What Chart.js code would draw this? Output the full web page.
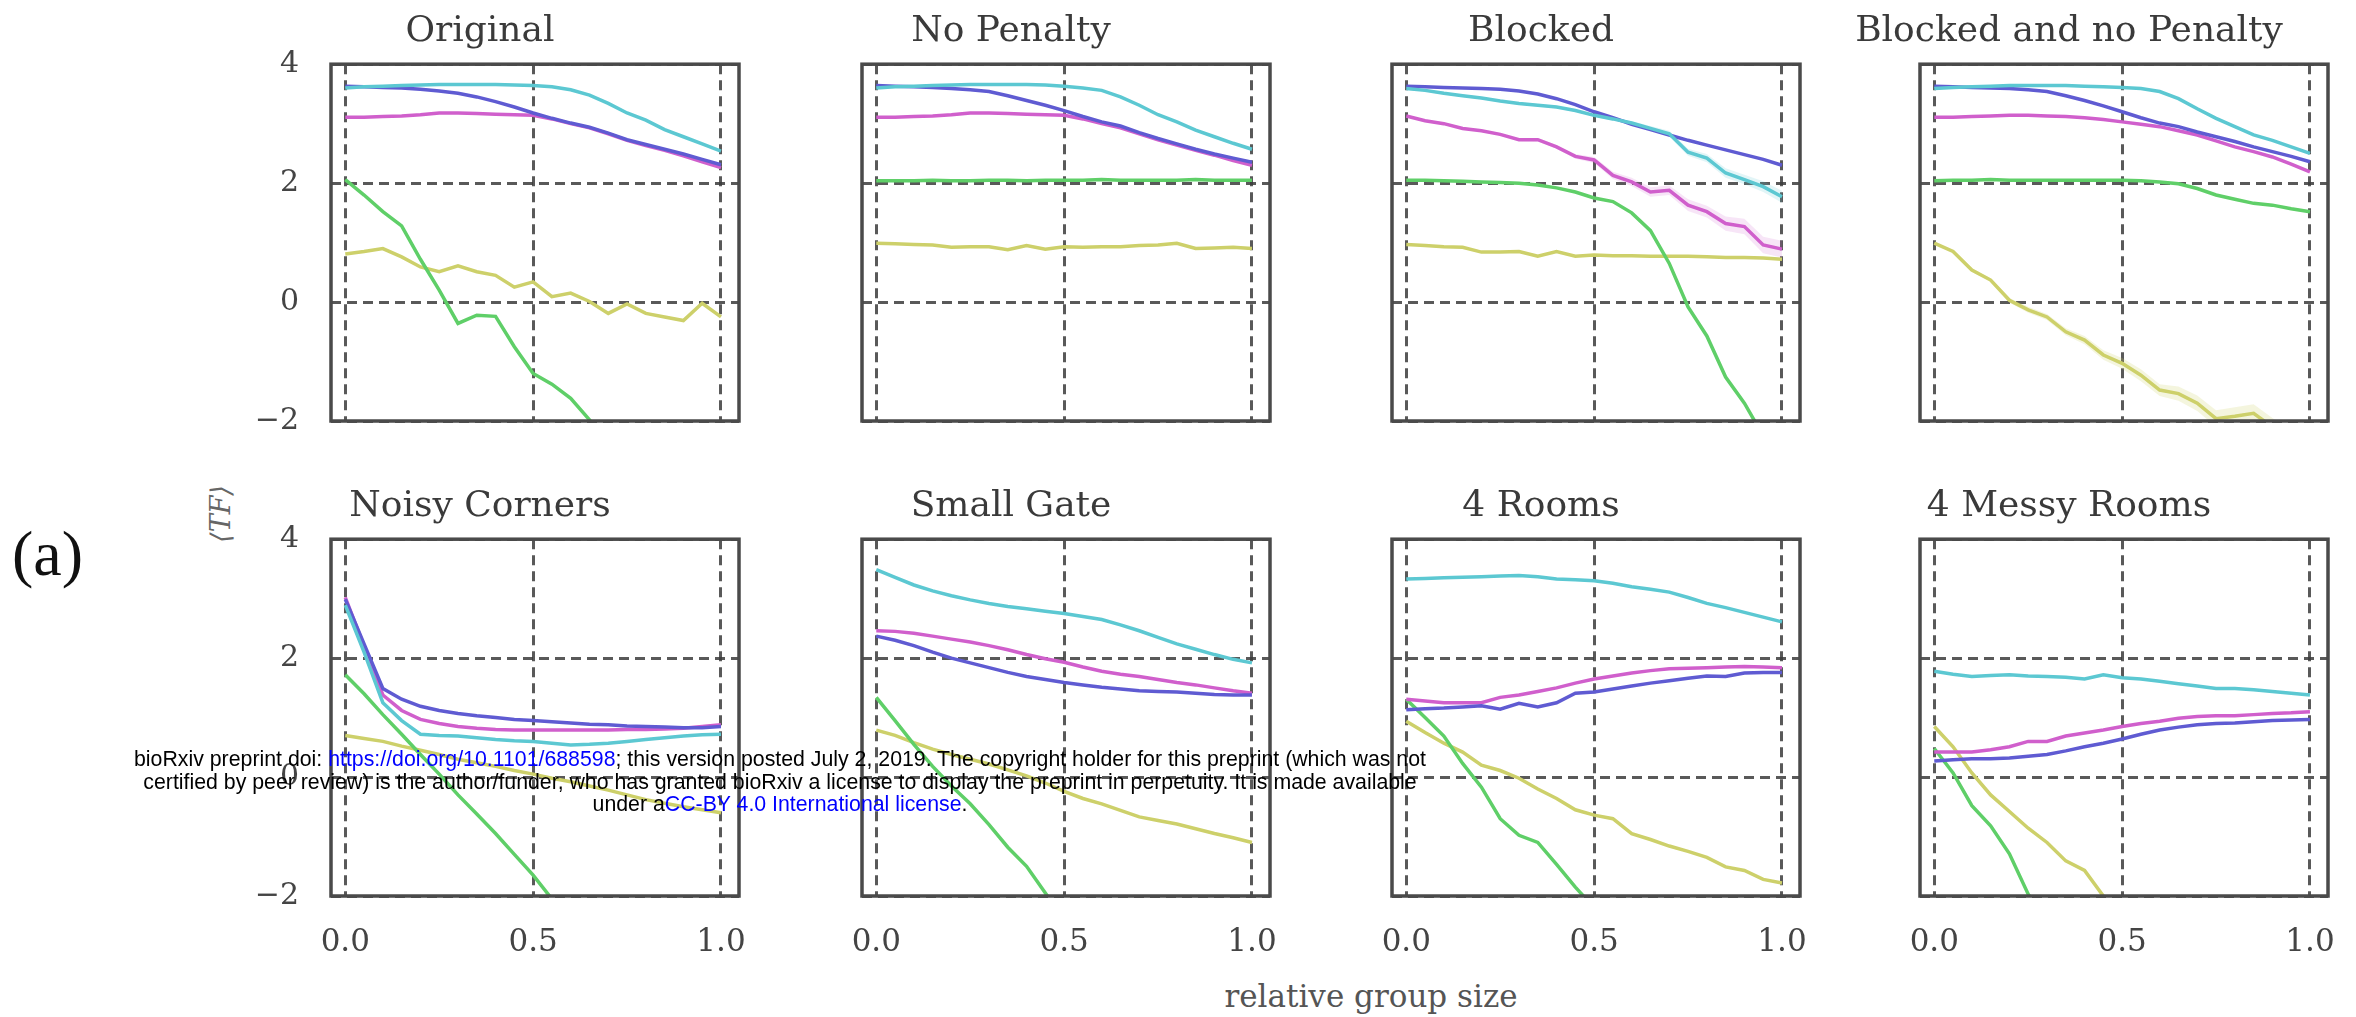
<!DOCTYPE html>
<html>
<head>
<meta charset="utf-8">
<script src="https://cdn.jsdelivr.net/npm/chart.js@4.4.1/dist/chart.umd.min.js"></script>
<style>
  html, body { margin: 0; padding: 0; background: #fff; }
  body { width: 2356px; height: 1017px; position: relative; overflow: hidden; }
  canvas { position: absolute; }
  .lbl { position: absolute; white-space: nowrap; }
  #panelTag { left: 12px; top: 518px; font: 64px 'Liberation Serif', serif; color: #111; line-height: 72px; }
  #yLab { left: 220px; top: 514px; transform: translate(-50%, -50%) rotate(-90deg);
          font: italic 27px 'DejaVu Serif', serif; color: #666; }
  #xLab { left: 1371px; top: 996px; transform: translate(-50%, -50%);
          font: 31px 'DejaVu Serif', serif; color: #555; }
  #stamp { left: 780px; top: 748px; transform: translateX(-50%); text-align: center;
           font: 21.3px 'Liberation Sans', Arial, sans-serif; line-height: 22.5px; color: #000; }
  #stamp a { color: #0000ff; text-decoration: none; }
</style>
</head>
<body>
<div class="lbl" id="panelTag">(a)</div>
<div class="lbl" id="yLab">⟨TF⟩</div>
<div class="lbl" id="xLab">relative group size</div>

<script>
// x positions (relative group size)
const xs = [0, 0.05, 0.1, 0.15, 0.2, 0.25, 0.3, 0.35, 0.4, 0.45, 0.5,
            0.55, 0.6, 0.65, 0.7, 0.75, 0.8, 0.85, 0.9, 0.95, 1.0];

const xTicks = [0, 0.5, 1];
const xTickLabels = ['0.0', '0.5', '1.0'];
const yTicks = [-2, 0, 2, 4];
const yTickLabels = ['\u22122', '0', '2', '4'];

const titles = ['Original', 'No Penalty', 'Blocked', 'Blocked and no Penalty',
                'Noisy Corners', 'Small Gate', '4 Rooms', '4 Messy Rooms'];

// Original
const origCyan    = [3.60,3.62,3.63,3.64,3.65,3.66,3.66,3.66,3.66,3.65,3.64,3.62,3.57,3.48,3.34,3.18,3.06,2.90,2.78,2.66,2.54];
const origBlue    = [3.63,3.62,3.61,3.60,3.58,3.55,3.51,3.45,3.37,3.28,3.18,3.09,3.01,2.94,2.84,2.73,2.65,2.57,2.49,2.40,2.31];
const origMagenta = [3.11,3.11,3.12,3.13,3.15,3.18,3.18,3.17,3.16,3.15,3.14,3.08,3.00,2.93,2.83,2.72,2.63,2.55,2.46,2.36,2.26];
const origGreen   = [2.06,1.80,1.52,1.28,0.72,0.20,-0.36,-0.22,-0.24,-0.75,-1.20,-1.38,-1.62,-1.98,-2.40,null,null,null,null,null,null];
const origYellow  = [0.81,0.85,0.90,0.76,0.59,0.51,0.61,0.51,0.45,0.25,0.34,0.09,0.15,0.01,-0.19,-0.03,-0.19,-0.25,-0.31,-0.02,-0.25];

// No Penalty
const npCyan    = [3.60,3.62,3.63,3.64,3.65,3.66,3.66,3.66,3.66,3.65,3.63,3.60,3.56,3.45,3.31,3.15,3.03,2.89,2.78,2.67,2.57];
const npBlue    = [3.64,3.63,3.62,3.61,3.59,3.57,3.54,3.47,3.39,3.31,3.22,3.12,3.03,2.96,2.85,2.75,2.66,2.57,2.49,2.42,2.35];
const npMagenta = [3.11,3.11,3.12,3.13,3.15,3.18,3.18,3.17,3.16,3.15,3.14,3.08,3.00,2.93,2.83,2.73,2.64,2.55,2.47,2.38,2.30];
const npGreen   = [2.04,2.04,2.04,2.05,2.04,2.04,2.05,2.05,2.04,2.05,2.05,2.05,2.06,2.05,2.05,2.05,2.05,2.06,2.05,2.05,2.05];
const npYellow  = [0.99,0.98,0.97,0.96,0.92,0.93,0.93,0.88,0.95,0.89,0.93,0.92,0.93,0.93,0.95,0.96,0.99,0.90,0.91,0.92,0.90];

// Blocked
const blCyan    = [3.59,3.56,3.51,3.47,3.43,3.38,3.34,3.31,3.28,3.22,3.14,3.08,3.01,2.92,2.83,2.52,2.42,2.17,2.06,1.94,1.77];
const blBlue    = [3.63,3.62,3.61,3.60,3.59,3.58,3.55,3.50,3.42,3.32,3.20,3.10,2.99,2.90,2.81,2.72,2.64,2.56,2.48,2.40,2.30];
const blMagenta = [3.13,3.05,3.00,2.92,2.88,2.82,2.73,2.73,2.61,2.45,2.39,2.13,2.02,1.85,1.88,1.63,1.52,1.32,1.27,0.96,0.89];
const blGreen   = [2.05,2.05,2.04,2.03,2.02,2.01,2.00,1.97,1.92,1.85,1.75,1.69,1.50,1.20,0.65,-0.08,-0.57,-1.26,-1.70,-2.25,null];
const blYellow  = [0.97,0.95,0.93,0.92,0.84,0.84,0.85,0.77,0.85,0.77,0.79,0.78,0.78,0.77,0.77,0.77,0.76,0.75,0.75,0.74,0.72];
// half widths of the shaded spread
const blCyanSpread    = [0.02,0.02,0.02,0.02,0.02,0.02,0.02,0.02,0.02,0.02,0.02,0.03,0.03,0.04,0.05,0.06,0.07,0.08,0.08,0.09,0.10];
const blMagentaSpread = [0.02,0.02,0.02,0.02,0.02,0.02,0.02,0.03,0.03,0.04,0.05,0.06,0.07,0.08,0.08,0.10,0.10,0.12,0.13,0.14,0.14];

// Blocked and no Penalty
const bnCyan    = [3.59,3.61,3.62,3.63,3.64,3.64,3.64,3.64,3.63,3.62,3.61,3.59,3.54,3.42,3.25,3.09,2.95,2.81,2.72,2.61,2.50];
const bnBlue    = [3.63,3.62,3.61,3.60,3.59,3.57,3.54,3.47,3.39,3.30,3.20,3.10,3.01,2.95,2.86,2.78,2.70,2.61,2.53,2.45,2.36];
const bnMagenta = [3.11,3.11,3.12,3.13,3.14,3.14,3.13,3.12,3.10,3.07,3.03,2.99,2.95,2.88,2.81,2.71,2.61,2.53,2.44,2.32,2.19];
const bnGreen   = [2.04,2.05,2.05,2.06,2.05,2.05,2.05,2.05,2.05,2.05,2.05,2.04,2.02,1.99,1.91,1.80,1.73,1.66,1.63,1.57,1.52];
const bnYellow  = [0.99,0.85,0.54,0.37,0.03,-0.13,-0.25,-0.50,-0.64,-0.89,-1.03,-1.23,-1.48,-1.54,-1.70,-1.96,-1.92,-1.87,-2.10,-2.30,null];
const bnYellowSpread = [0.02,0.02,0.03,0.03,0.04,0.05,0.05,0.06,0.07,0.08,0.09,0.10,0.10,0.12,0.13,0.14,0.15,0.15,0.15,0.15,null];

// Noisy Corners
const ncCyan    = [2.89,2.10,1.25,0.95,0.72,0.70,0.69,0.66,0.63,0.61,0.60,0.57,0.54,0.55,0.57,0.60,0.63,0.66,0.69,0.71,0.72];
const ncBlue    = [2.99,2.24,1.49,1.31,1.19,1.12,1.07,1.03,1.00,0.97,0.95,0.93,0.91,0.89,0.88,0.86,0.85,0.84,0.83,0.83,0.85];
const ncMagenta = [3.02,2.20,1.38,1.12,0.97,0.90,0.85,0.82,0.80,0.79,0.79,0.79,0.79,0.79,0.79,0.80,0.80,0.81,0.82,0.85,0.88];
const ncGreen   = [1.72,1.40,1.05,0.72,0.38,0.05,-0.30,-0.62,-0.95,-1.30,-1.65,-2.05,-2.40,null,null,null,null,null,null,null,null];
const ncYellow  = [0.70,0.65,0.60,0.52,0.45,0.38,0.30,0.24,0.18,0.11,0.05,-0.02,-0.08,-0.15,-0.22,-0.30,-0.38,-0.44,-0.50,-0.55,-0.60];

// Small Gate
const sgCyan    = [3.49,3.36,3.23,3.13,3.05,2.98,2.92,2.87,2.83,2.79,2.75,2.70,2.65,2.56,2.46,2.35,2.24,2.15,2.06,1.98,1.92];
const sgBlue    = [2.37,2.30,2.21,2.10,2.00,1.92,1.84,1.76,1.69,1.64,1.59,1.55,1.51,1.48,1.45,1.44,1.43,1.41,1.39,1.38,1.38];
const sgMagenta = [2.46,2.45,2.42,2.37,2.32,2.27,2.21,2.14,2.06,1.99,1.93,1.85,1.78,1.73,1.69,1.64,1.59,1.55,1.50,1.45,1.41];
const sgGreen   = [1.34,0.95,0.55,0.18,-0.15,-0.45,-0.80,-1.18,-1.50,-1.95,-2.40,null,null,null,null,null,null,null,null,null,null];
const sgYellow  = [0.79,0.70,0.58,0.47,0.38,0.30,0.22,0.12,0.02,-0.10,-0.24,-0.36,-0.45,-0.56,-0.67,-0.73,-0.79,-0.87,-0.95,-1.02,-1.10];

// 4 Rooms
const frCyan    = [3.33,3.34,3.35,3.36,3.37,3.38,3.39,3.37,3.33,3.32,3.30,3.26,3.20,3.16,3.11,3.02,2.92,2.85,2.77,2.69,2.61];
const frBlue    = [1.13,1.15,1.16,1.18,1.20,1.14,1.24,1.18,1.25,1.41,1.43,1.48,1.53,1.58,1.62,1.66,1.70,1.69,1.75,1.76,1.76];
const frMagenta = [1.31,1.28,1.25,1.25,1.25,1.34,1.38,1.44,1.50,1.58,1.65,1.70,1.75,1.79,1.82,1.83,1.84,1.85,1.86,1.85,1.84];
const frGreen   = [1.31,1.00,0.69,0.23,-0.17,-0.70,-0.98,-1.10,-1.47,-1.85,-2.20,null,null,null,null,null,null,null,null,null,null];
const frYellow  = [0.94,0.75,0.57,0.42,0.20,0.11,-0.02,-0.20,-0.36,-0.55,-0.64,-0.70,-0.95,-1.05,-1.16,-1.25,-1.35,-1.51,-1.57,-1.72,-1.78];

// 4 Messy Rooms
const mrCyan    = [1.78,1.73,1.69,1.71,1.72,1.70,1.69,1.68,1.65,1.72,1.67,1.65,1.61,1.57,1.53,1.49,1.49,1.47,1.44,1.41,1.38];
const mrBlue    = [0.27,0.29,0.31,0.31,0.32,0.35,0.38,0.44,0.51,0.57,0.64,0.72,0.79,0.84,0.88,0.90,0.91,0.93,0.95,0.96,0.97];
const mrMagenta = [0.42,0.42,0.42,0.46,0.51,0.60,0.60,0.69,0.74,0.79,0.85,0.90,0.94,0.99,1.02,1.03,1.03,1.05,1.07,1.08,1.10];
const mrGreen   = [0.48,0.07,-0.48,-0.82,-1.29,-1.97,-2.40,null,null,null,null,null,null,null,null,null,null,null,null,null,null];
const mrYellow  = [0.85,0.51,0.07,-0.30,-0.58,-0.86,-1.10,-1.41,-1.57,-2.00,-2.30,null,null,null,null,null,null,null,null,null,null];

// series order inside each panel: cyan, blue, magenta, green, yellow
const panelSeries = [
  [origCyan, origBlue, origMagenta, origGreen, origYellow],
  [npCyan, npBlue, npMagenta, npGreen, npYellow],
  [blCyan, blBlue, blMagenta, blGreen, blYellow],
  [bnCyan, bnBlue, bnMagenta, bnGreen, bnYellow],
  [ncCyan, ncBlue, ncMagenta, ncGreen, ncYellow],
  [sgCyan, sgBlue, sgMagenta, sgGreen, sgYellow],
  [frCyan, frBlue, frMagenta, frGreen, frYellow],
  [mrCyan, mrBlue, mrMagenta, mrGreen, mrYellow]
];
// shaded spreads: [panel, series, half widths]
const spreads = [
  [2, 0, blCyanSpread],
  [2, 2, blMagentaSpread],
  [3, 4, bnYellowSpread]
];

// look
const lineColors = ['#5cc8d2', '#5f5bd2', '#d05fcc', '#5fcf68', '#cdd06a'];
const bandColors = ['rgba(92,200,210,0.18)', 'rgba(95,91,210,0.18)', 'rgba(208,95,204,0.16)',
                    'rgba(95,207,104,0.18)', 'rgba(205,208,106,0.22)'];
const FONT = "'DejaVu Serif', serif";
const GRID = 'rgba(60,60,60,0.85)';
const TXT = '#444';

// layout (px)
const frameLeft = [331, 862, 1392, 1920];
const frameW = 408;
const canvasTop = [1, 476];
const AXIS_W = 110;
const TITLE_H = 63.2;   // 36 * 1.2 + 9 + 11
const PLOT_H = 357;
const XAXIS_H = [10, 100];

// frame around the plot area
const framePlugin = {
  id: 'frame',
  afterDatasetsDraw(chart) {
    const { ctx, chartArea: a } = chart;
    ctx.save();
    ctx.strokeStyle = '#4a4a4a';
    ctx.lineWidth = 3.5;
    ctx.strokeRect(a.left, a.top, a.right - a.left, a.bottom - a.top);
    ctx.restore();
  }
};

function noPad(s) { s.paddingTop = 0; s.paddingBottom = 0; s.paddingLeft = 0; s.paddingRight = 0; }

function makePanel(i) {
  const col = i % 4, row = Math.floor(i / 4);
  const cv = document.createElement('canvas');
  const w = frameW + 2 * AXIS_W;
  const h = Math.round(TITLE_H + PLOT_H + XAXIS_H[row]);
  cv.width = w; cv.height = h;
  cv.style.left = (frameLeft[col] - AXIS_W) + 'px';
  cv.style.top = canvasTop[row] + 'px';
  document.body.appendChild(cv);

  const datasets = [];
  panelSeries[i].forEach((vals, k) => {
    datasets.push({
      data: vals.map((v, j) => ({ x: xs[j], y: v })),
      borderColor: lineColors[k],
      borderWidth: 3.5,
      pointRadius: 0,
      tension: 0,
      fill: false
    });
  });
  spreads.filter(s => s[0] === i).forEach(([, k, half]) => {
    const vals = panelSeries[i][k];
    const lo = vals.map((v, j) => ({ x: xs[j], y: v === null || half[j] === null ? null : v - half[j] }));
    const hi = vals.map((v, j) => ({ x: xs[j], y: v === null || half[j] === null ? null : v + half[j] }));
    datasets.push({ data: lo, borderWidth: 0, pointRadius: 0, fill: false });
    datasets.push({ data: hi, borderWidth: 0, pointRadius: 0, fill: '-1', backgroundColor: bandColors[k] });
  });

  new Chart(cv.getContext('2d'), {
    type: 'line',
    data: { datasets },
    options: {
      responsive: false, animation: false, events: [],
      layout: { padding: { left: 0, right: AXIS_W, top: 0, bottom: 0 } },
      scales: {
        x: {
          type: 'linear', min: -0.038, max: 1.048,
          afterBuildTicks: s => { s.ticks = xTicks.map(v => ({ value: v })); },
          afterFit: s => { s.height = XAXIS_H[row]; noPad(s); },
          grid: { color: GRID, lineWidth: 3, drawTicks: false },
          border: { display: false, dash: [10, 6] },
          ticks: {
            display: row === 1, padding: 28, maxRotation: 0, autoSkip: false,
            color: TXT, font: { family: FONT, size: 31 },
            callback: (v, idx) => xTickLabels[idx]
          }
        },
        y: {
          min: -2, max: 4,
          afterBuildTicks: s => { s.ticks = yTicks.map(v => ({ value: v })); },
          afterFit: s => { s.width = AXIS_W; noPad(s); },
          grid: { color: GRID, lineWidth: 3, drawTicks: false },
          border: { display: false, dash: [10, 6] },
          ticks: {
            display: col === 0, padding: 32, autoSkip: false,
            color: TXT, font: { family: FONT, size: 30 },
            callback: (v, idx) => yTickLabels[idx]
          }
        }
      },
      plugins: {
        legend: { display: false },
        tooltip: { enabled: false },
        title: {
          display: true, text: titles[i], color: '#3a3a3a',
          font: { family: FONT, size: 36, weight: 'normal' },
          padding: { top: 9, bottom: 11 }
        }
      }
    },
    plugins: [framePlugin]
  });
}

for (let i = 0; i < 8; i++) makePanel(i);
</script>

<div class="lbl" id="stamp">bioRxiv preprint doi: <a>https://doi.org/10.1101/688598</a>; this version posted July 2, 2019. The copyright holder for this preprint (which was not<br>certified by peer review) is the author/funder, who has granted bioRxiv a license to display the preprint in perpetuity. It is made available<br>under a<a>CC-BY 4.0 International license</a>.</div>
</body>
</html>
